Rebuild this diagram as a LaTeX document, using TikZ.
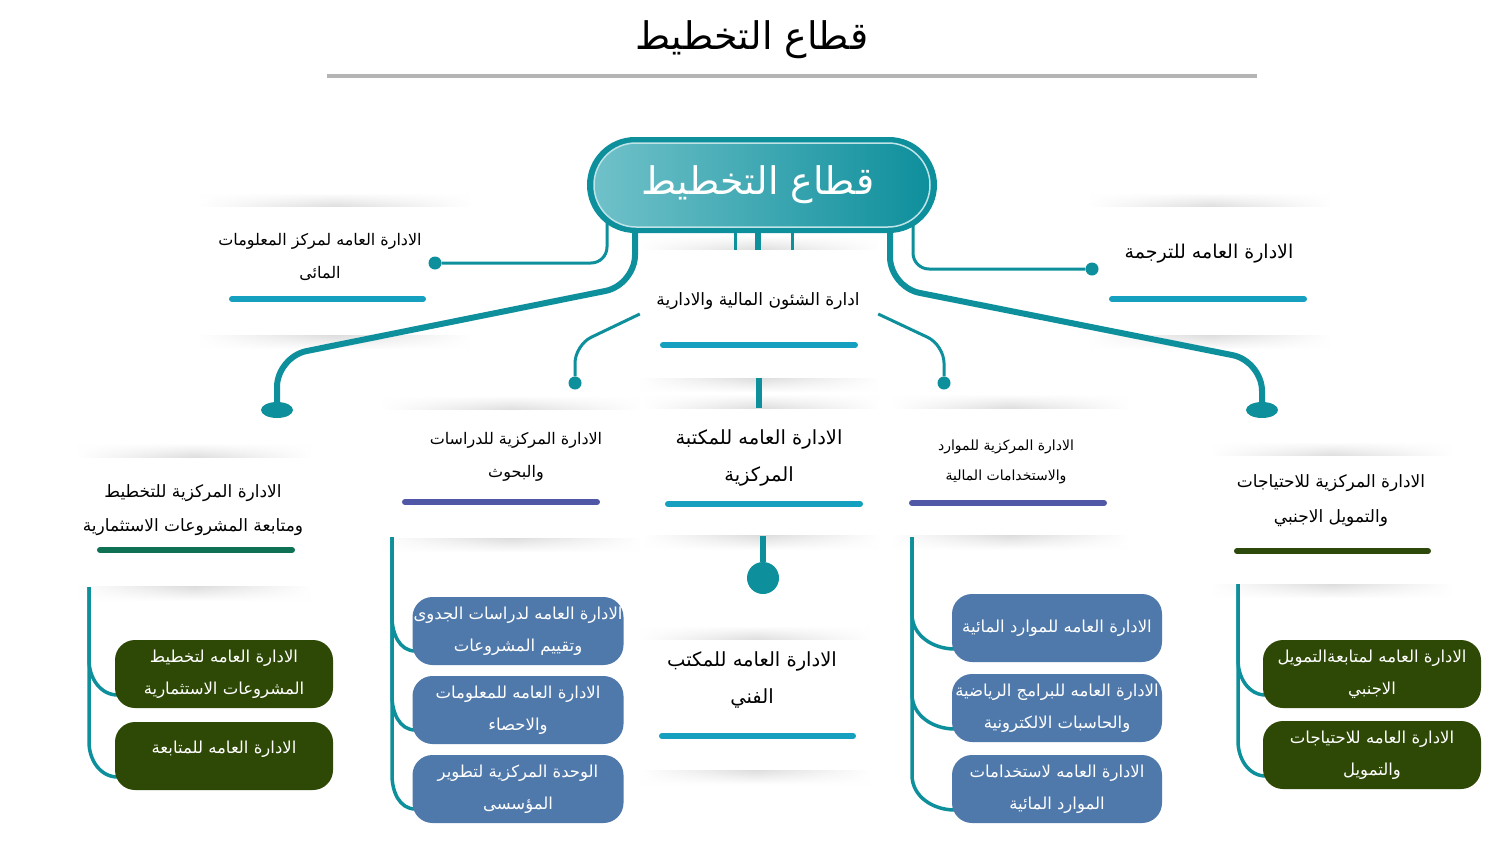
\documentclass[tikz,border=0pt]{standalone}
\usepackage{fontspec}
\newfontfamily\arabicfont[Script=Arabic]{DejaVu Sans}
\TeXXeTstate=1
\usetikzlibrary{fadings,calc,shapes.geometric}
\newcommand\artxt[1]{\beginR #1\endR}
\definecolor{tealA}{RGB}{14,143,156}
\definecolor{tealL}{RGB}{112,193,201}
\definecolor{ulblue}{RGB}{22,160,191}
\definecolor{ulind}{RGB}{81,87,167}
\definecolor{ulgreen}{RGB}{15,113,83}
\definecolor{ulolive}{RGB}{45,74,12}
\definecolor{boxgreen}{RGB}{46,72,6}
\definecolor{boxblue}{RGB}{80,121,171}
\definecolor{titlegray}{RGB}{180,180,180}
\tikzfading[name=fadesides, left color=transparent!100, right color=transparent!100, middle color=transparent!0]
\pgfdeclarelayer{shadow}
\pgfdeclarelayer{bg}
\pgfsetlayers{shadow,bg,main}
\newcommand\cardshadow[1]{%
  \begin{pgfonlayer}{shadow}
  \shade[top color=white, bottom color=black!13, path fading=fadesides] ([yshift=14pt]#1.north west) rectangle (#1.north east);
  \shade[top color=black!13, bottom color=white, path fading=fadesides] (#1.south west) rectangle ([yshift=-14pt]#1.south east);
  \end{pgfonlayer}}
\begin{document}
\begin{tikzpicture}[x=1pt,y=-1pt,
  cardtext/.style={font=\arabicfont\fontsize{16}{33}\selectfont, align=center, inner sep=0pt, text=black},
  card/.style={rectangle, inner sep=0pt},
  ul/.style={line width=6pt, line cap=round},
  thinc/.style={draw=tealA, line width=3pt},
  thickc/.style={draw=tealA, line width=6pt},
  brk/.style={draw=tealA, line width=3.5pt},
  dot/.style={circle, fill=tealA, inner sep=0pt, minimum size=13pt},
  gbox/.style={rectangle, rounded corners=20pt, fill=boxgreen, minimum width=218pt, minimum height=68pt, inner sep=0pt, text=white, align=center, font=\arabicfont\fontsize{16.5}{32}\selectfont},
  bbox/.style={rectangle, rounded corners=20pt, fill=boxblue, minimum width=211pt, minimum height=68pt, inner sep=0pt, text=white, align=center, font=\arabicfont\fontsize{16.5}{32}\selectfont},
]
\useasboundingbox (0,0) rectangle (1500,844);
\begin{pgfonlayer}{shadow}
\fill[white] (0,0) rectangle (1500,844);
\end{pgfonlayer}

% title
\node[font=\arabicfont\fontsize{38}{44}\selectfont, inner sep=0pt] (title) at (752,40) {\artxt{قطاع التخطيط}};
\draw[titlegray, line width=4pt] (327,76) -- (1257,76);

% central pill
\node[rectangle, rounded corners=48pt, minimum width=350pt, minimum height=96pt, fill=tealA, inner sep=0pt] (pillo) at (762,185) {};
\node[rectangle, rounded corners=42pt, minimum width=336pt, minimum height=84pt, left color=tealL, right color=tealA, draw=white!55!tealL, line width=1.5pt, inner sep=0pt, text=white, font=\arabicfont\fontsize{38}{44}\selectfont] (pill) at (762,185) {\artxt{قطاع التخطيط}\hspace*{8pt}};

% cards (white areas)
\node[card, minimum width=270pt, minimum height=128pt] (cA) at (335,271) {};
\node[card, minimum width=240pt, minimum height=128pt] (cB) at (1210,271) {};
\node[card, minimum width=238pt, minimum height=128pt] (cC) at (759,314) {};
\node[card, minimum width=257pt, minimum height=128pt] (cD) at (511,474) {};
\node[card, minimum width=234pt, minimum height=127pt] (cE) at (762,472) {};
\node[card, minimum width=235pt, minimum height=127pt] (cF) at (1010,472) {};
\node[card, minimum width=232pt, minimum height=129pt] (cG) at (194,522) {};
\node[card, minimum width=239pt, minimum height=128pt] (cH) at (1332,520) {};
\node[card, minimum width=230pt, minimum height=130pt] (cI) at (755,705) {};
\foreach \c in {cA,cB,cC,cD,cE,cF,cG,cH,cI} {\cardshadow{\c}}

\node[cardtext] (tA) at (320,257) {\artxt{الادارة العامه لمركز المعلومات}\\\artxt{المائى}};
\node[cardtext, font=\arabicfont\fontsize{19}{33}\selectfont] (tB) at (1209,254) {\artxt{الادارة العامه للترجمة}};
\node[cardtext, font=\arabicfont\fontsize{17}{33}\selectfont] (tC) at (758,301) {\artxt{ادارة الشئون المالية والادارية}};
\node[cardtext] (tD) at (516,457) {\artxt{الادارة المركزية للدراسات}\\\artxt{والبحوث}};
\node[cardtext, font=\arabicfont\fontsize{19.5}{37}\selectfont] (tE) at (759,458) {\artxt{الادارة العامه للمكتبة}\\\artxt{المركزية}};
\node[cardtext, font=\arabicfont\fontsize{14}{30}\selectfont] (tF) at (1006,462) {\artxt{الادارة المركزية للموارد}\\\artxt{والاستخدامات المالية}};
\node[cardtext, font=\arabicfont\fontsize{17}{34}\selectfont] (tG) at (193,510) {\artxt{الادارة المركزية للتخطيط}\\\artxt{ومتابعة المشروعات الاستثمارية}};
\node[cardtext, font=\arabicfont\fontsize{17}{35}\selectfont] (tH) at (1331,501) {\artxt{الادارة المركزية للاحتياجات}\\\artxt{والتمويل  الاجنبي}};
\node[cardtext, font=\arabicfont\fontsize{19.5}{37}\selectfont] (tI) at (752,680) {\artxt{الادارة العامه للمكتب}\\\artxt{الفني}};

% underlines
\draw[ul, ulblue] (232,299) -- (423,299);
\draw[ul, ulblue] (1112,299) -- (1304,299);
\draw[ul, ulblue] (663,345) -- (855,345);
\draw[ul, ulind] (405,502) -- (597,502);
\draw[ul, ulblue] (668,504) -- (860,504);
\draw[ul, ulind] (912,503) -- (1104,503);
\draw[ul, ulgreen] (100,550) -- (292,550);
\draw[ul, ulolive] (1237,551) -- (1428,551);
\draw[ul, ulblue] (662,736) -- (853,736);

% dots / ends
\node[dot] (dA) at (435,263) {};
\node[dot] (dB) at (1092,269) {};
\node[dot] (dCL) at (575,383) {};
\node[dot] (dCR) at (944,383) {};
\node[ellipse, fill=tealA, inner sep=0pt, minimum width=32pt, minimum height=16pt] (eL) at (277,410) {};
\node[ellipse, fill=tealA, inner sep=0pt, minimum width=32pt, minimum height=16pt] (eR) at (1262,410) {};
\node[circle, fill=tealA, inner sep=0pt, minimum size=32pt] (bigdot) at (763,578) {};

% sub boxes
\node[gbox] (G1) at (224,674) {\artxt{الادارة العامه لتخطيط}\\\artxt{المشروعات الاستثمارية}};
\node[gbox] (G2) at (224,756) {\raisebox{0pt}[\height][\dimexpr\depth+14pt\relax]{\artxt{الادارة العامه للمتابعة}}};
\node[bbox] (D1) at (518,631) {\artxt{الادارة العامه لدراسات الجدوى}\\\artxt{وتقييم المشروعات}};
\node[bbox] (D2) at (518,710) {\artxt{الادارة العامه للمعلومات}\\\artxt{والاحصاء}};
\node[bbox] (D3) at (518,789) {\artxt{الوحدة المركزية لتطوير}\\\artxt{المؤسسى}};
\node[bbox, minimum width=210pt] (F1) at (1057,628) {\artxt{الادارة العامه للموارد المائية}};
\node[bbox, minimum width=210pt] (F2) at (1057,708) {\artxt{الادارة العامه للبرامج الرياضية}\\\artxt{والحاسبات الالكترونية}};
\node[bbox, minimum width=210pt] (F3) at (1057,789) {\artxt{الادارة العامه لاستخدامات}\\\artxt{الموارد المائية}};
\node[gbox] (H1) at (1372,674) {\artxt{الادارة العامه لمتابعةالتمويل}\\\artxt{الاجنبي}};
\node[gbox] (H2) at (1372,755) {\artxt{الادارة العامه للاحتياجات}\\\artxt{والتمويل}};

% connector anchor points
\coordinate (sTL) at (607,200);
\coordinate (sKL) at (635,200);
\coordinate (sTR) at (913,200);
\coordinate (sKR) at (890,200);
\coordinate (kL1) at (635,285);
\coordinate (kL2) at (277,357);
\coordinate (kR1) at (890,287);
\coordinate (kR2) at (1262,361);
\coordinate (cLk) at (575,345);
\coordinate (cRk) at (944,345);
\coordinate (gTop) at (89,587);
\coordinate (dTop) at (392,537);
\coordinate (fTop) at (912,537);
\coordinate (hTop) at (1238,584);

\begin{pgfonlayer}{bg}
\draw[thinc, rounded corners=16pt] (sTL) |- (dA);
\draw[thinc, rounded corners=16pt] (sTR) |- (dB);
\draw[thickc, rounded corners=30pt] (sKL) -- (kL1) -- (kL2) -- (eL);
\draw[thickc, rounded corners=30pt] (sKR) -- (kR1) -- (kR2) -- (eR);
\draw[thinc] ([xshift=-27pt]pill.center) -- ([xshift=-27pt]pill.center |- cC.north);
\draw[thickc] ([xshift=-4pt]pill.center) -- ([xshift=-4pt]pill.center |- cC.north);
\draw[thinc] ([xshift=30pt]pill.center) -- ([xshift=30pt]pill.center |- cC.north);
\draw[thinc, rounded corners=18pt] (cC.west) -- (cLk) -- (dCL);
\draw[thinc, rounded corners=18pt] (cC.east) -- (cRk) -- (dCR);
\draw[thickc] (cC.south) -- (cC.south |- cE.north);
\draw[thickc] (bigdot.center |- cE.south) -- (bigdot);
\foreach \b in {G1,G2} {\draw[brk] (gTop) -- ($(\b.west -| gTop)+(0,-14)$) to[out=-90,in=180] ($(\b.west)+(3,21)$);}
\foreach \b in {D1,D2,D3} {\draw[brk] (dTop) -- ($(\b.west -| dTop)+(0,-14)$) to[out=-90,in=180] ($(\b.west)+(3,20)$);}
\foreach \b in {F1,F2,F3} {\draw[brk] (fTop) -- ($(\b.west -| fTop)+(0,-14)$) to[out=-90,in=180] ($(\b.west)+(3,21)$);}
\foreach \b in {H1,H2} {\draw[brk] (hTop) -- ($(\b.west -| hTop)+(0,-14)$) to[out=-90,in=180] ($(\b.west)+(3,21)$);}
\end{pgfonlayer}
\end{tikzpicture}
\end{document}
